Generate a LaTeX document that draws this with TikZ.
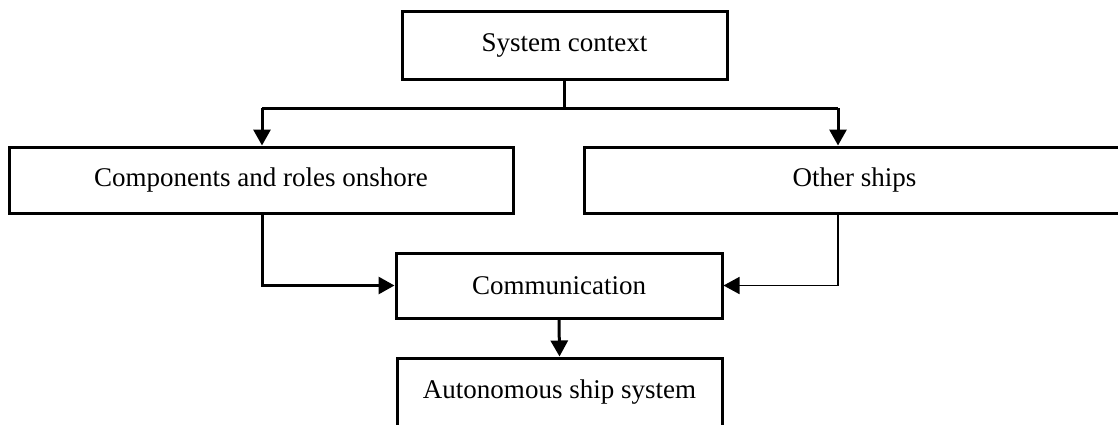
\documentclass[tikz,border=0pt]{standalone}
\usepackage{fontspec}
\setmainfont{Liberation Serif}
\usetikzlibrary{arrows.meta}
\begin{document}
\begin{tikzpicture}[x=1pt,y=-1pt,
  box/.style={draw=black,line width=3pt,rectangle,inner sep=0pt,
    font=\fontsize{27}{32}\selectfont,text=black},
  conn/.style={line width=3pt,draw=black},
  thinconn/.style={line width=1.6pt,draw=black},
  tip/.style={-{Triangle[width=17pt,length=16pt]}}]
\useasboundingbox (0,0) rectangle (1118,424);
\clip (0,0) rectangle (1118,424);
\node[box,minimum width=325pt,minimum height=68pt] (sys) at (564.5,45) {System context};
\node[box,minimum width=504pt,minimum height=66pt] (comp) at (261,180) {Components and roles onshore};
\node[box,minimum width=541pt,minimum height=66pt] (other) at (854.5,180) {Other ships\hspace{33pt}};
\node[box,minimum width=326pt,minimum height=65pt] (comm) at (559,285.5) {Communication};
\node[box,minimum width=325pt,minimum height=69pt] (auto) at (559.5,392.5) {Autonomous ship system};
\coordinate (jm) at (564,108);
\coordinate (jl) at (262,108);
\coordinate (jr) at (838,108);
\draw[conn] (jm |- sys.south) -- (jm);
\draw[conn] (jl) -- (jr);
\draw[conn,tip] (jl) -- (jl |- comp.north);
\draw[conn,tip] (jr) -- (jr |- other.north);
\draw[conn,tip] (jl |- comp.south) |- (comm.west);
\draw[thinconn,tip] (jr |- other.south) |- (comm.east);
\draw[conn,tip] (comm.south) -- (auto.north);
\end{tikzpicture}
\end{document}
